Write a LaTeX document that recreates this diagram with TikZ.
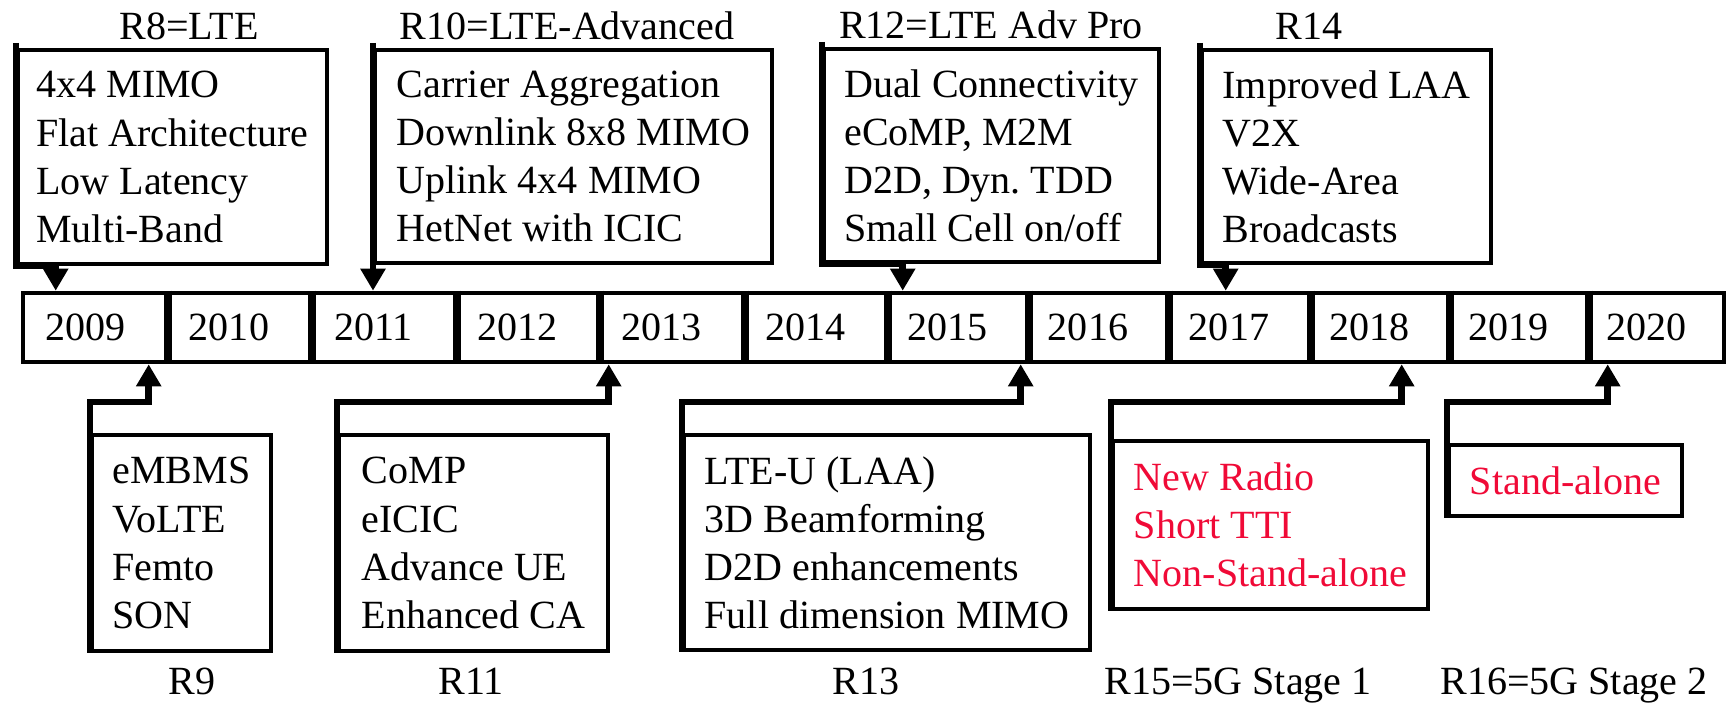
\documentclass[tikz,border=0pt]{standalone}
\usepackage{fontspec}
\setmainfont{Liberation Serif}
\usetikzlibrary{arrows.meta,calc}
\definecolor{nrred}{RGB}{240,10,55}
\tikzset{
  relbox/.style={draw, line width=1.1pt, align=left, inner sep=0pt, anchor=north west},
  yearbox/.style={draw, line width=1.3pt, inner sep=0pt, minimum height=0.69cm},
  hook/.style={line width=1.9pt, -{Triangle[width=0.24cm,length=0.22cm]}},
  reltag/.style={anchor=base},
}
\begin{document}
\begin{tikzpicture}[x=0.01cm,y=-0.01cm,font=\fontsize{11.38}{13.66}\selectfont]
      \useasboundingbox (0,0) rectangle (1729,704);
      % the years
      \foreach \yr/\xa/\xb in {2009/23/166,2010/166/310,2011/310/455,2012/455/598,
                               2013/598/743,2014/743/886,2015/886/1027,2016/1027/1167,
                               2017/1167/1309,2018/1309/1448,2019/1448/1587,2020/1587/1724}
        \node[yearbox, minimum width={(\xb-\xa)*0.01cm}] (y\yr) at ({(\xa+\xb)/2},327.5) {\yr\hspace*{0.18cm}};
      \foreach \yr in {2009,...,2019}
        \draw[line width=2pt] (y\yr.north east) -- (y\yr.south east);
      % releases above the bar
      \node[relbox, minimum width=3.09cm, minimum height=2.14cm] (r8) at (16,48)
            {4x4 MIMO\\Flat Architecture\\Low Latency\\Multi-Band};
      \node[relbox, minimum width=3.97cm, minimum height=2.13cm] (r10) at (373,48)
            {Carrier Aggregation\\Downlink 8x8 MIMO\\Uplink 4x4 MIMO\\HetNet with ICIC};
      \node[relbox, minimum width=3.35cm, minimum height=2.13cm] (r12) at (822,47)
            {Dual Connectivity\\eCoMP, M2M\\D2D, Dyn.\ TDD\\Small Cell on/off};
      \node[relbox, minimum width=2.89cm, minimum height=2.13cm] (r14) at (1200,48)
            {Improved LAA\\V2X\\Wide-Area\\Broadcasts};
      \node[reltag] (t8) at (189,40) {R8=LTE};
      \node[reltag] (t10) at (567,40) {R10=LTE-Advanced};
      \node[reltag] (t12) at (991,39) {R12=LTE Adv Pro};
      \node[reltag] (t14) at (1309,40) {R14};
      % releases below the bar
      \node[relbox, minimum width=1.79cm, minimum height=2.16cm] (r9) at (90,433)
            {eMBMS\\VoLTE\\Femto\\SON};
      \node[relbox, minimum width=2.69cm, minimum height=2.16cm] (r11) at (337,433)
            {CoMP\\eICIC\\Advance UE\\Enhanced CA};
      \node[relbox, minimum width=4.06cm, minimum height=2.15cm] (r13) at (682,433)
            {LTE-U (LAA)\\3D Beamforming\\D2D enhancements\\Full dimension MIMO};
      \node[relbox, text=nrred, minimum width=3.15cm, minimum height=1.68cm] (r15) at (1111,439)
            {New Radio\\Short TTI\\Non-Stand-alone};
      \node[relbox, text=nrred, minimum width=2.33cm, minimum height=0.71cm] (r16) at (1447,443)
            {Stand-alone};
      \node[reltag] (t9) at (192,695) {R9};
      \node[reltag] (t11) at (471,695) {R11};
      \node[reltag] (t13) at (866,695) {R13};
      \node[reltag] (t15) at (1238,695) {R15=5G Stage 1};
      \node[reltag] (t16) at (1574,695) {R16=5G Stage 2};
      % hooks to the years
      \draw[hook] ([yshift=0.05cm]r8.north west) -- (r8.south west) -| ($(y2009.north west)+(35,0)$);
      \draw[hook] ([yshift=0.05cm]r10.north west) -- (r10.south west |- y2011.north);
      \draw[hook] ([yshift=0.05cm]r12.north west) -- (r12.south west) -| ($(y2015.north west)+(19,0)$);
      \draw[hook] ([yshift=0.05cm]r14.north west) -- (r14.south west) -| ($(y2017.north west)+(61,0)$);
      \draw[hook] (r9.south west) -- ([yshift=0.31cm]r9.north west) -| ($(y2009.south west)+(128,0)$);
      \draw[hook] (r11.south west) -- ([yshift=0.31cm]r11.north west) -| ($(y2013.south west)+(13,0)$);
      \draw[hook] (r13.south west) -- ([yshift=0.31cm]r13.north west) -| ($(y2015.south west)+(137,0)$);
      \draw[hook] (r15.south west) -- ([yshift=0.37cm]r15.north west) -| ($(y2018.south west)+(95,0)$);
      \draw[hook] (r16.south west) -- ([yshift=0.41cm]r16.north west) -| ($(y2020.south west)+(23,0)$);
\end{tikzpicture}
\end{document}
